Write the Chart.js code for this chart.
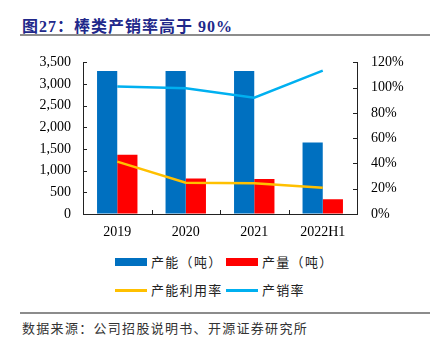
<!DOCTYPE html>
<html>
<head>
<meta charset="utf-8">
<script src="https://cdn.jsdelivr.net/npm/chart.js@4"></script>
<style>
  body { margin: 0; background: #fff; width: 430px; height: 342px; position: relative; overflow: hidden; }
  .title { position: absolute; left: 22px; top: 13px; font: bold 16px "Liberation Serif", "Noto Sans CJK SC"; letter-spacing: 1px; color: #21288A; white-space: nowrap; }
  .rule { position: absolute; left: 20px; right: 0; height: 2px; background: #8c8c8c; }
  .src { position: absolute; left: 22px; top: 318px; font: 13px "Noto Sans CJK SC"; letter-spacing: 1.3px; color: #333; white-space: nowrap; }
  #wrap { position: absolute; left: 0; top: 40px; width: 430px; height: 205px; }
  .leg { position: absolute; font: 13px "Noto Sans CJK SC"; letter-spacing: 1.3px; color: #222; white-space: nowrap; }
  .leg i { position: absolute; left: 0; width: 32px; }
  .leg span { position: absolute; left: 36px; top: 0; line-height: 16px; }
</style>
</head>
<body>
<div class="title">图27：棒类产销率高于 90%</div>
<div class="rule" style="top:34px"></div>
<div id="wrap"><canvas id="c"></canvas></div>
<div id="legend"></div>
<div class="rule" style="top:312px"></div>
<div class="src">数据来源：公司招股说明书、开源证券研究所</div>
<script>
const years = ['2019', '2020', '2021', '2022H1'];
const capacity = [3300, 3300, 3300, 1650];     // 产能（吨）
const output = [1370, 820, 810, 340];          // 产量（吨）
const utilRate = [41.5, 24.7, 24.4, 20.8];     // 产能利用率 %
const salesRate = [101, 99.5, 92, 113.5];      // 产销率 %

// small inward tick marks on all three axes
const innerTicks = {
  id: 'innerTicks',
  afterDraw(chart) {
    const ctx = chart.ctx, a = chart.chartArea;
    ctx.save();
    ctx.strokeStyle = '#222';
    ctx.lineWidth = 1;
    ctx.beginPath();
    chart.scales.y.ticks.forEach(t => {
      const py = Math.round(chart.scales.y.getPixelForValue(t.value)) + 0.5;
      ctx.moveTo(a.left, py); ctx.lineTo(a.left + 4, py);
    });
    chart.scales.y2.ticks.forEach(t => {
      const py = Math.round(chart.scales.y2.getPixelForValue(t.value)) + 0.5;
      ctx.moveTo(a.right - 4, py); ctx.lineTo(a.right, py);
    });
    const xs = chart.scales.x;
    for (let i = 0; i < years.length - 1; i++) {
      const px = Math.round((xs.getPixelForValue(i) + xs.getPixelForValue(i + 1)) / 2) + 0.5;
      ctx.moveTo(px, a.bottom); ctx.lineTo(px, a.bottom - 4);
    }
    ctx.stroke();
    ctx.restore();
  }
};

const tickFont = { family: '"Liberation Serif"', size: 14 };

const chart = new Chart(document.getElementById('c'), {
  type: 'bar',
  data: {
    labels: years,
    datasets: [
      { type: 'line', label: '产能利用率', data: utilRate, yAxisID: 'y2', borderColor: '#FFC000', backgroundColor: '#FFC000', borderWidth: 2.5, pointRadius: 0, tension: 0, order: 0 },
      { type: 'line', label: '产销率', data: salesRate, yAxisID: 'y2', borderColor: '#00B0F0', backgroundColor: '#00B0F0', borderWidth: 2.5, pointRadius: 0, tension: 0, order: 0 },
      { label: '产能（吨）', data: capacity, backgroundColor: '#0070C0', yAxisID: 'y', order: 1, categoryPercentage: 0.59, barPercentage: 1 },
      { label: '产量（吨）', data: output, backgroundColor: '#FF0000', yAxisID: 'y', order: 1, categoryPercentage: 0.59, barPercentage: 1 }
    ]
  },
  options: {
    responsive: true,
    maintainAspectRatio: false,
    animation: false,
    layout: { padding: { top: 20, left: 0, right: 0, bottom: 0 } },
    plugins: { legend: { display: false }, tooltip: { enabled: false } },
    scales: {
      x: {
        grid: { drawOnChartArea: false, drawTicks: false },
        border: { display: true, color: '#222', width: 1 },
        ticks: { color: '#000', font: tickFont, padding: 10 },
        afterFit: s => { s.height = 31; }
      },
      y: {
        position: 'left',
        min: 0, max: 3500,
        grid: { drawOnChartArea: false, drawTicks: false },
        border: { display: true, color: '#222', width: 1 },
        ticks: { stepSize: 500, color: '#000', font: tickFont, padding: 12,
                 callback: v => v.toLocaleString('en-US') },
        afterFit: s => { s.width = 83; }
      },
      y2: {
        position: 'right',
        min: 0, max: 120,
        grid: { drawOnChartArea: false, drawTicks: false },
        border: { display: true, color: '#222', width: 1 },
        ticks: { stepSize: 20, color: '#000', font: tickFont, padding: 14,
                 callback: v => v + '%' },
        afterFit: s => { s.width = 73; }
      }
    }
  },
  plugins: [innerTicks]
});

// legend in two rows, built from the datasets
const slots = [
  { ds: 2, x: 115, y: 254, box: true },
  { ds: 3, x: 226, y: 254, box: true },
  { ds: 0, x: 115, y: 282, box: false },
  { ds: 1, x: 226, y: 282, box: false }
];
const legend = document.getElementById('legend');
slots.forEach(s => {
  const d = chart.data.datasets[s.ds];
  const el = document.createElement('div');
  el.className = 'leg';
  el.style.left = s.x + 'px';
  el.style.top = s.y + 'px';
  const mark = document.createElement('i');
  mark.style.background = d.backgroundColor;
  mark.style.height = s.box ? '8px' : '2.5px';
  mark.style.top = s.box ? '4px' : '7px';
  const txt = document.createElement('span');
  txt.textContent = d.label;
  el.appendChild(mark);
  el.appendChild(txt);
  legend.appendChild(el);
});
</script>
</body>
</html>
